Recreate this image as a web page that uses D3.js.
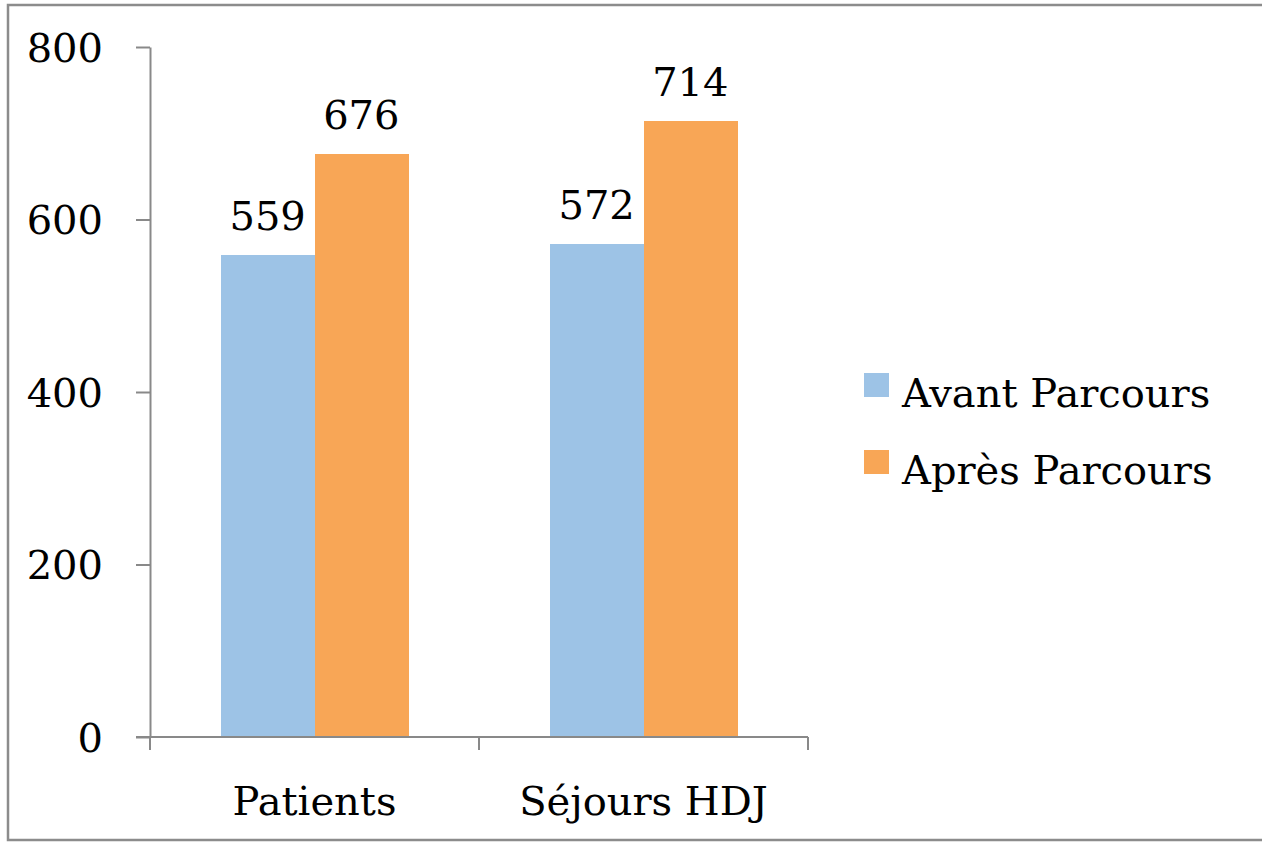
<!DOCTYPE html>
<meta charset="utf-8">
<style>
    body { margin: 0; background: #fff; }
    text { font-family: "DejaVu Serif", serif; fill: #000; }
    .axis path, .axis line { stroke: #898989; stroke-width: 2px; }
    rect { shape-rendering: crispEdges; }
</style>
<svg width="1262" height="842"></svg>
<script src="https://d3js.org/d3.v7.min.js"></script>
<script>

    var categories = ["Patients", "Séjours HDJ"];
    var series = ["Avant Parcours", "Après Parcours"];
    var avant = [559, 572];
    var apres = [676, 714];
    var yTicks = [0, 200, 400, 600, 800];
    var colors = ["#9dc3e6", "#f8a656"];

    var svg = d3.select("svg"),
        plotLeft = 150, plotRight = 808, plotTop = 47, plotBottom = 737;

    // frame
    svg.append("path")
        .attr("d", "M1262,5H8V840H1262")
        .attr("fill", "none")
        .attr("stroke", "#8c8c8c")
        .attr("stroke-width", 2.5);

    var y = d3.scaleLinear().domain([0, 800]).range([plotBottom, plotTop]);
    var x0 = d3.scaleBand().domain(categories).range([plotLeft, plotRight]);
    var x1 = d3.scaleBand().domain(series).range([0, x0.bandwidth()]).paddingOuter(0.755);
    var color = d3.scaleOrdinal().domain(series).range(colors);

    var rows = categories.map(function (c, i) {
        return { cat: c, values: [{ s: series[0], v: avant[i] }, { s: series[1], v: apres[i] }] };
    });

    var g = svg.selectAll("g.cat")
        .data(rows)
        .enter().append("g")
        .attr("class", "cat")
        .attr("transform", function (d) { return "translate(" + x0(d.cat) + ",0)"; });

    g.selectAll("rect")
        .data(function (d) { return d.values; })
        .enter().append("rect")
        .attr("x", function (d) { return x1(d.s); })
        .attr("width", x1.bandwidth() + 0.5)
        .attr("y", function (d) { return y(d.v); })
        .attr("height", function (d) { return plotBottom - y(d.v); })
        .attr("fill", function (d) { return color(d.s); });

    g.selectAll("text.val")
        .data(function (d) { return d.values; })
        .enter().append("text")
        .attr("class", "val")
        .attr("x", function (d) { return x1(d.s) + x1.bandwidth() / 2; })
        .attr("y", function (d) { return y(d.v) - 25; })
        .attr("text-anchor", "middle")
        .style("font-size", "40px")
        .text(function (d) { return d.v; });

    // y axis
    var yAxis = svg.append("g")
        .attr("class", "axis")
        .attr("transform", "translate(" + plotLeft + ",0)")
        .call(d3.axisLeft(y).tickValues(yTicks).tickSize(14).tickSizeOuter(0).tickPadding(33));
    yAxis.selectAll("text").style("font-size", "40px").attr("dy", "0.36em").style("font-family", "DejaVu Serif");

    // x axis
    var xAxis = svg.append("g")
        .attr("class", "axis")
        .attr("transform", "translate(0," + plotBottom + ")");
    xAxis.append("line")
        .attr("x1", plotLeft - 14).attr("x2", plotRight)
        .attr("y1", 0).attr("y2", 0);
    xAxis.selectAll("line.tk")
        .data(categories.map(function (c) { return x0(c); }).concat([plotRight]))
        .enter().append("line")
        .attr("class", "tk")
        .attr("x1", function (d) { return d; }).attr("x2", function (d) { return d; })
        .attr("y1", 0).attr("y2", 13);
    xAxis.selectAll("text")
        .data(categories)
        .enter().append("text")
        .attr("x", function (d) { return x0(d) + x0.bandwidth() / 2; })
        .attr("y", 78)
        .attr("text-anchor", "middle")
        .style("font-size", "40px")
        .text(function (d) { return d; });

    // legend
    var legend = svg.selectAll("g.legend")
        .data(series)
        .enter().append("g")
        .attr("class", "legend")
        .attr("transform", function (d, i) { return "translate(864," + (373 + i * 77) + ")"; });
    legend.append("rect")
        .attr("width", 25).attr("height", 24)
        .attr("fill", function (d) { return color(d); });
    legend.append("text")
        .attr("x", 38).attr("y", 34)
        .style("font-size", "40px")
        .text(function (d) { return d; });

</script>
